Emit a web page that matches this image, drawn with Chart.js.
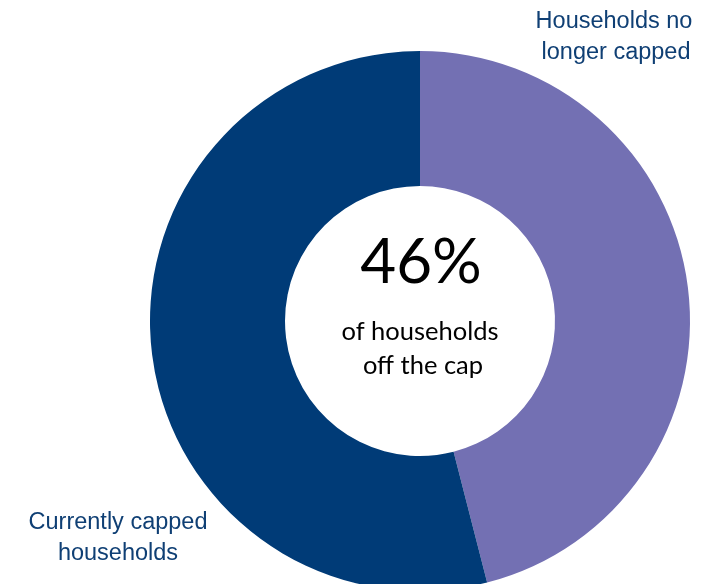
<!DOCTYPE html>
<html>
<head>
<meta charset="utf-8">
<script src="https://cdn.jsdelivr.net/npm/chart.js@4/dist/chart.umd.min.js"></script>
<style>
    html, body { margin: 0; padding: 0; background: #fff; overflow: hidden; }
    #wrap { width: 718px; height: 600px; }
</style>
</head>
<body>
<div id="wrap"><canvas id="cap_chart" width="718" height="600"></canvas></div>
<script>
// data
const categories   = ["Households no longer capped", "Currently capped households"];
const shares       = [46, 54];
const slice_colors = ["#7370b3", "#003b77"];
const center_big   = "46%";
const center_small = ["of households", "off the cap"];

// labels for each slice, split into lines
const label_lines = [
    ["Households no", "longer capped"],
    ["Currently capped", "households"]
];

window.addEventListener("load", function () {
    draw_cap_chart();
});

function draw_cap_chart(){

    const text_plugin = {
        id: "cap_text",
        afterDraw(chart){
            const ctx  = chart.ctx;
            const meta = chart.getDatasetMeta(0);
            const cx   = meta.data[0].x;
            const cy   = meta.data[0].y;

            ctx.save();
            ctx.textAlign    = "center";
            ctx.textBaseline = "middle";

            //中央のテキスト
            ctx.fillStyle = "#000";
            ctx.font = "62px Lato";
            ctx.fillText(center_big, cx + 1, cy - 58);
            ctx.font = "25.5px Lato";
            ctx.fillText(center_small[0], cx, cy + 11);
            ctx.fillText(center_small[1], cx + 3, cy + 45);

            //スライスのラベル
            ctx.fillStyle = "#0f3f74";
            ctx.font = "23.5px 'Liberation Sans'";
            ctx.fillText(label_lines[0][0], 614, 22);
            ctx.fillText(label_lines[0][1], 616, 53);
            ctx.fillText(label_lines[1][0], 118, 523);
            ctx.fillText(label_lines[1][1], 118, 554);
            ctx.restore();
        }
    };

    const ctx = document.getElementById("cap_chart").getContext("2d");
    new Chart(ctx, {
        type: "doughnut",
        data: {
            labels: categories,
            datasets: [{
                data: shares,
                backgroundColor: slice_colors,
                borderWidth: 0
            }]
        },
        options: {
            responsive: false,
            animation: false,
            cutout: "50%",
            layout: { padding: { left: 150, right: 28, top: 51, bottom: 9 } },
            plugins: {
                legend: { display: false },
                tooltip: { enabled: false }
            }
        },
        plugins: [text_plugin]
    });
}
</script>
</body>
</html>
